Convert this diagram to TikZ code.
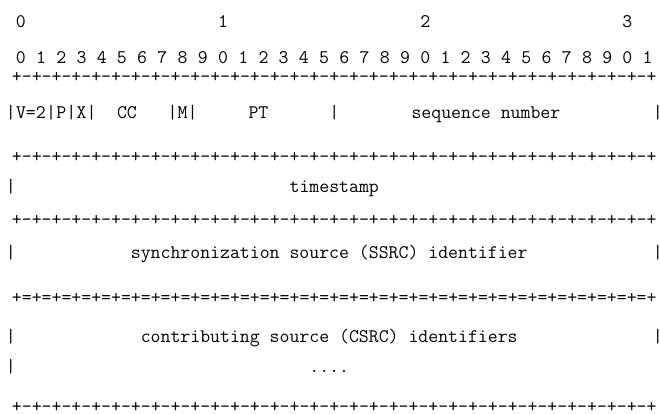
\documentclass[tikz,border=0pt]{standalone}
\usepackage{tikz}
\usetikzlibrary{positioning}
\tikzset{t/.style={font=\ttfamily\fontsize{14.44}{17}\selectfont,inner sep=0pt,anchor=base},
 bar/.style={t},lbl/.style={t}}
\def\pdash{+-+-+-+-+-+-+-+-}
\def\pequal{+=+=+=+=+=+=+=+=}

\begin{document}
\begin{tikzpicture}[x=7.581pt,y=-.75pt]
\useasboundingbox (-1.06,0) rectangle (64.22,413);
% bit numbers
\foreach \c/\d in {1/0,21/1,41/2,61/3}{\node[t] (h\d) at (\c,27){\d};}
\foreach \c in {0,...,31}{\pgfmathtruncatemacro\d{mod(\c,10)}
 \node[t] (n\c) at (2*\c+1,63){\d};}
% rulers
\foreach \y/\n in {82/1,162/2,225/3,412/5}{\node[t] (r\n) at (32,\y){\pdash\pdash\pdash\pdash+};}
\node[t] (r4) at (32,303){\pequal\pequal\pequal\pequal+};
% first word
\foreach \c in {0,4,6,8,16,18,32,64}{\node[bar] (fb\c) at (\c,118){|};}
\node[lbl] (ver) at (2,118){V=2};\node[lbl] (pad) at (5,118){P};
\node[lbl] (ext) at (7,118){X};\node[lbl] (cc) at (11.5,118){CC};
\node[lbl] (mark) at (17,118){M};\node[lbl] (pt) at (24.5,118){PT};
\node[lbl] (seq) at (47,118){sequence number};
% timestamp
\node[bar] (tb0) at (0,192){|};\node[lbl] (ts) at (32,192){timestamp};
% ssrc
\node[bar] (sb0) at (0,258){|};\node[bar] (sb64) at (64,258){|};
\node[lbl] (ssrc) at (31.5,258){synchronization source (SSRC) identifier};
% csrc
\node[bar] (cb0) at (0,342){|};\node[bar] (cb64) at (64,342){|};
\node[lbl] (csrc) at (31.5,342){contributing source (CSRC) identifiers};
\node[bar] (db0) at (0,372){|};\node[lbl] (dots) at (31.5,372){....};
\end{tikzpicture}
\end{document}
